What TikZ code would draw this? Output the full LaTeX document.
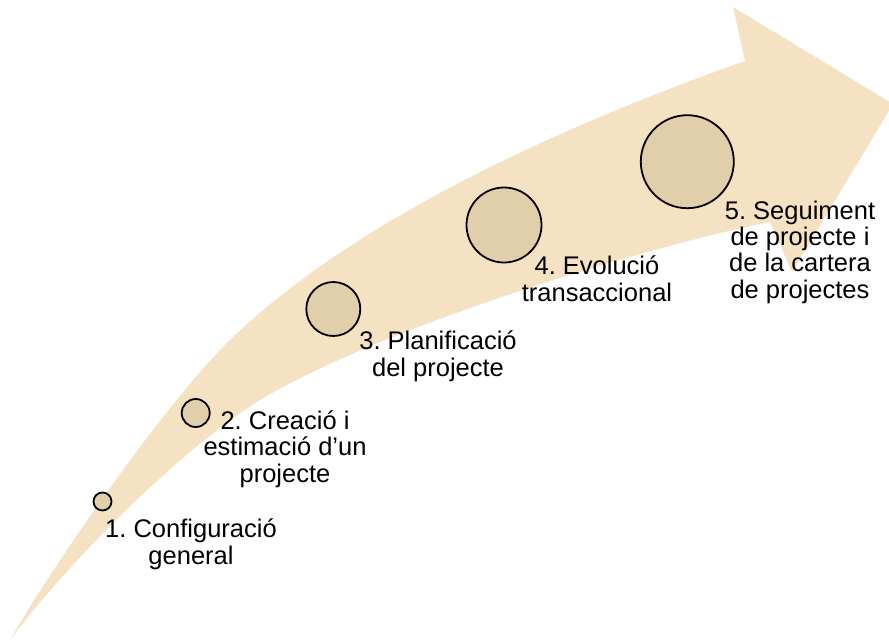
\documentclass[tikz,border=0pt]{standalone}
\usepackage{fontspec}
\setmainfont{Liberation Sans}
\definecolor{bandc}{HTML}{F5E2C3}
\definecolor{dotc}{HTML}{E1CEAB}
\begin{document}
\begin{tikzpicture}[x=1pt,y=-1pt,
  dot/.style={circle,draw=black,line width=1.8pt,fill=dotc,inner sep=0pt},
  lbl/.style={align=center,inner sep=0pt,anchor=base,font=\fontsize{25.5}{26.3}\selectfont\frenchspacing}]
\clip (0,0) rectangle (889,641);
\fill[white] (0,0) rectangle (889,641);
% curved arrow
\coordinate (tail) at (10,640);
\coordinate (up1) at (230,340);
\coordinate (notchT) at (745,61);
\coordinate (headT) at (733,7);
\coordinate (apex) at (893,104);
\coordinate (headB) at (792,272);
\coordinate (notchB) at (770,222);
\coordinate (lo1) at (260,400);
\fill[bandc] (tail) .. controls (62.5,550) and (170,398) .. (up1)
  .. controls (365,209) and (595,114) .. (notchT)
  -- (headT) -- (apex) -- (headB) -- (notchB)
  .. controls (640,248) and (380,328) .. (lo1)
  .. controls (180,450) and (70,560) .. (tail) -- cycle;
% milestones
\node[dot,minimum size=18pt] (c1) at (102.5,501.5) {};
\node[dot,minimum size=28pt] (c2) at (195.7,413) {};
\node[dot,minimum size=54pt] (c3) at (333.3,309) {};
\node[dot,minimum size=75pt] (c4) at (504,225) {};
\node[dot,minimum size=93pt] (c5) at (687.3,161.7) {};
% labels (anchor = baseline of last line)
\node[lbl] (t1) at (191,564) {1. Configuració\\general};
\node[lbl] (t2) at (285,482) {2. Creació i\\estimació d’un\\projecte};
\node[lbl] (t3) at (438,376) {3. Planificació\\del projecte};
\node[lbl] (t4) at (597,301) {4. Evolució\\transaccional};
\node[lbl] (t5) at (800,298) {5. Seguiment\\de projecte i\\de la cartera\\de projectes};
\end{tikzpicture}
\end{document}
